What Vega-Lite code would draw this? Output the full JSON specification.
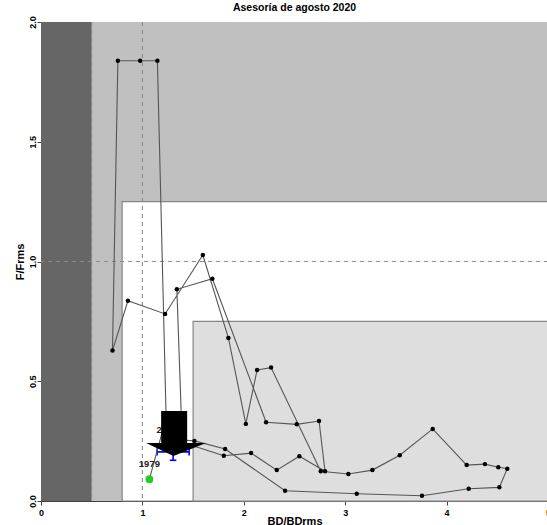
{
  "$schema": "https://vega.github.io/schema/vega-lite/v6.json",
  "width": 507,
  "height": 479,
  "autosize": {"type": "none"},
  "padding": {"left": 41, "top": 22, "right": 0, "bottom": 24},
  "background": "white",
  "config": {"font": "Liberation Sans", "view": {"stroke": "#8c8c8c", "strokeWidth": 1}},
  "title": {"text": "Asesoría de agosto 2020", "fontSize": 10.5, "fontWeight": "bold", "color": "black", "anchor": "middle", "offset": 2, "frame": "group", "font": "Liberation Sans"},
  "datasets": {
    "zones": [
      {"zone": "mid", "x1": 0.5, "x2": 5, "y1": 0, "y2": 2},
      {"zone": "dark", "x1": 0, "x2": 0.5, "y1": 0, "y2": 2},
      {"zone": "white", "x1": 0.8, "x2": 5.2, "y1": 0, "y2": 1.25},
      {"zone": "light", "x1": 1.5, "x2": 5.2, "y1": 0, "y2": 0.75}
    ],
    "vref": [{"v": 0.5}, {"v": 1}],
    "href": [{"v": 1}],
    "err": [
      {"x1": 1.145, "x2": 1.461, "y1": 0.205, "y2": 0.205},
      {"x1": 1.145, "x2": 1.145, "y1": 0.19, "y2": 0.22},
      {"x1": 1.461, "x2": 1.461, "y1": 0.19, "y2": 0.22},
      {"x1": 1.303, "x2": 1.303, "y1": 0.17, "y2": 0.24},
      {"x1": 1.27, "x2": 1.335, "y1": 0.17, "y2": 0.17},
      {"x1": 1.27, "x2": 1.335, "y1": 0.24, "y2": 0.24}
    ],
    "traj": [
      {"year": 1979, "x": 1.069, "y": 0.091},
      {"year": 1980, "x": 1.234, "y": 0.347},
      {"year": 1981, "x": 1.148, "y": 1.838},
      {"year": 1982, "x": 0.978, "y": 1.838},
      {"year": 1983, "x": 0.758, "y": 1.838},
      {"year": 1984, "x": 0.705, "y": 0.628},
      {"year": 1985, "x": 0.857, "y": 0.836},
      {"year": 1986, "x": 1.224, "y": 0.781},
      {"year": 1987, "x": 1.596, "y": 1.027},
      {"year": 1988, "x": 1.848, "y": 0.681},
      {"year": 1989, "x": 2.020, "y": 0.322},
      {"year": 1990, "x": 2.131, "y": 0.547},
      {"year": 1991, "x": 2.269, "y": 0.557},
      {"year": 1992, "x": 2.759, "y": 0.124},
      {"year": 1993, "x": 3.031, "y": 0.113},
      {"year": 1994, "x": 3.268, "y": 0.129},
      {"year": 1995, "x": 3.538, "y": 0.191},
      {"year": 1996, "x": 3.863, "y": 0.301},
      {"year": 1997, "x": 4.198, "y": 0.150},
      {"year": 1998, "x": 4.378, "y": 0.154},
      {"year": 1999, "x": 4.510, "y": 0.141},
      {"year": 2000, "x": 4.598, "y": 0.135},
      {"year": 2001, "x": 4.520, "y": 0.057},
      {"year": 2002, "x": 4.218, "y": 0.051},
      {"year": 2003, "x": 3.757, "y": 0.022},
      {"year": 2004, "x": 3.114, "y": 0.030},
      {"year": 2005, "x": 2.407, "y": 0.043},
      {"year": 2006, "x": 1.816, "y": 0.217},
      {"year": 2007, "x": 1.513, "y": 0.251},
      {"year": 2008, "x": 1.392, "y": 0.255},
      {"year": 2009, "x": 1.340, "y": 0.884},
      {"year": 2010, "x": 1.690, "y": 0.928},
      {"year": 2011, "x": 2.220, "y": 0.329},
      {"year": 2012, "x": 2.522, "y": 0.320},
      {"year": 2013, "x": 2.742, "y": 0.334},
      {"year": 2014, "x": 2.801, "y": 0.124},
      {"year": 2015, "x": 2.548, "y": 0.187},
      {"year": 2016, "x": 2.325, "y": 0.129},
      {"year": 2017, "x": 2.072, "y": 0.200},
      {"year": 2018, "x": 1.803, "y": 0.189},
      {"year": 2019, "x": 1.323, "y": 0.255}
    ]
  },
  "layer": [
    {
      "data": {"name": "zones"},
      "mark": {"type": "rect", "strokeWidth": 1.2},
      "encoding": {
        "x": {"field": "x1", "type": "quantitative", "scale": {"domain": [0, 5], "nice": false, "zero": false, "clamp": true},
          "axis": {"values": [0, 1, 2, 3, 4, 5], "format": "d", "labelFontSize": 9, "labelFontWeight": "bold", "labelColor": "black", "tickSize": 4, "tickColor": "#444", "domainColor": "#444", "labelPadding": 3, "labelFlush": false, "labelOverlap": false, "labelBound": false, "grid": false, "title": "BD/BDrms", "titleFontSize": 11, "titleFontWeight": "bold", "titleColor": "black", "titleY": 23.5, "titleBaseline": "alphabetic"}},
        "x2": {"field": "x2"},
        "y": {"field": "y1", "type": "quantitative", "scale": {"domain": [0, 2], "nice": false, "zero": false},
          "axis": {"values": [0, 0.5, 1, 1.5, 2], "format": ".1f", "labelAngle": -90, "labelAlign": "center", "labelBaseline": "alphabetic", "labelFontSize": 9, "labelFontWeight": "bold", "labelColor": "black", "tickSize": 4, "tickColor": "#444", "domainColor": "#444", "labelPadding": 2, "labelOverlap": false, "labelBound": false, "labelFlush": false, "grid": false, "title": "F/Frms", "titleFontSize": 11, "titleFontWeight": "bold", "titleColor": "black", "titleAngle": -90, "titleX": -21, "titleY": 239.5, "titleAlign": "center", "titleBaseline": "middle"}},
        "y2": {"field": "y2"},
        "fill": {"field": "zone", "type": "nominal", "scale": {"domain": ["mid", "dark", "white", "light"], "range": ["#c0c0c0", "#666666", "#ffffff", "#dedede"]}, "legend": null},
        "stroke": {"field": "zone", "type": "nominal", "scale": {"domain": ["mid", "dark", "white", "light"], "range": ["transparent", "transparent", "#858585", "#858585"]}, "legend": null}
      }
    },
    {
      "data": {"name": "vref"},
      "mark": {"type": "rule", "color": "#8a8a8a", "strokeDash": [4, 4], "strokeWidth": 1.1},
      "encoding": {"x": {"field": "v", "type": "quantitative", "scale": {"domain": [0, 5], "nice": false, "zero": false}}}
    },
    {
      "data": {"name": "href"},
      "mark": {"type": "rule", "color": "#8a8a8a", "strokeDash": [4, 4], "strokeWidth": 1.1},
      "encoding": {"y": {"field": "v", "type": "quantitative", "scale": {"domain": [0, 2], "nice": false, "zero": false}}}
    },
    {
      "data": {"name": "err"},
      "mark": {"type": "rule", "color": "#0000ff", "strokeWidth": 1.6},
      "encoding": {
        "x": {"field": "x1", "type": "quantitative", "scale": {"domain": [0, 5], "nice": false, "zero": false}},
        "x2": {"field": "x2"},
        "y": {"field": "y1", "type": "quantitative", "scale": {"domain": [0, 2], "nice": false, "zero": false}},
        "y2": {"field": "y2"}
      }
    },
    {
      "data": {"name": "traj"},
      "mark": {"type": "line", "color": "#555555", "strokeWidth": 1.1},
      "encoding": {
        "x": {"field": "x", "type": "quantitative", "scale": {"domain": [0, 5], "nice": false, "zero": false}},
        "y": {"field": "y", "type": "quantitative", "scale": {"domain": [0, 2], "nice": false, "zero": false}},
        "order": {"field": "year", "type": "quantitative"}
      }
    },
    {
      "data": {"name": "traj"},
      "transform": [{"filter": "datum.year > 1979"}],
      "mark": {"type": "circle", "color": "black", "size": 20, "opacity": 1},
      "encoding": {
        "x": {"field": "x", "type": "quantitative", "scale": {"domain": [0, 5], "nice": false, "zero": false}},
        "y": {"field": "y", "type": "quantitative", "scale": {"domain": [0, 2], "nice": false, "zero": false}}
      }
    },
    {
      "data": {"name": "traj"},
      "transform": [{"filter": "datum.year == 1979"}],
      "mark": {"type": "circle", "color": "#22cc22", "size": 60, "opacity": 1},
      "encoding": {
        "x": {"field": "x", "type": "quantitative", "scale": {"domain": [0, 5], "nice": false, "zero": false}},
        "y": {"field": "y", "type": "quantitative", "scale": {"domain": [0, 2], "nice": false, "zero": false}}
      }
    },
    {
      "data": {"name": "traj"},
      "transform": [{"filter": "datum.year == 1979"}],
      "mark": {"type": "text", "fontSize": 9.5, "fontWeight": "bold", "color": "#222", "align": "center", "baseline": "alphabetic", "dy": -12},
      "encoding": {
        "x": {"field": "x", "type": "quantitative", "scale": {"domain": [0, 5], "nice": false, "zero": false}},
        "y": {"field": "y", "type": "quantitative", "scale": {"domain": [0, 2], "nice": false, "zero": false}},
        "text": {"field": "year", "type": "nominal"}
      }
    },
    {
      "data": {"name": "traj"},
      "transform": [{"filter": "datum.year == 2019"}],
      "mark": {"type": "text", "fontSize": 9.5, "fontWeight": "bold", "color": "#222", "align": "center", "baseline": "alphabetic", "dx": -8, "dy": -7},
      "encoding": {
        "x": {"field": "x", "type": "quantitative", "scale": {"domain": [0, 5], "nice": false, "zero": false}},
        "y": {"field": "y", "type": "quantitative", "scale": {"domain": [0, 2], "nice": false, "zero": false}},
        "text": {"field": "year", "type": "nominal"}
      }
    },
    {
      "data": {"name": "traj"},
      "transform": [{"filter": "datum.year == 2019"}],
      "mark": {"type": "point", "shape": "M-0.467,-0.967L0.4,-0.967L0.4,0.1L1.033,0.1L-0.057,0.533L-0.967,0.1L-0.467,0.1Z", "size": 3600, "filled": true, "color": "black", "opacity": 1, "strokeWidth": 0},
      "encoding": {
        "x": {"field": "x", "type": "quantitative", "scale": {"domain": [0, 5], "nice": false, "zero": false}},
        "y": {"field": "y", "type": "quantitative", "scale": {"domain": [0, 2], "nice": false, "zero": false}}
      }
    }
  ]
}
